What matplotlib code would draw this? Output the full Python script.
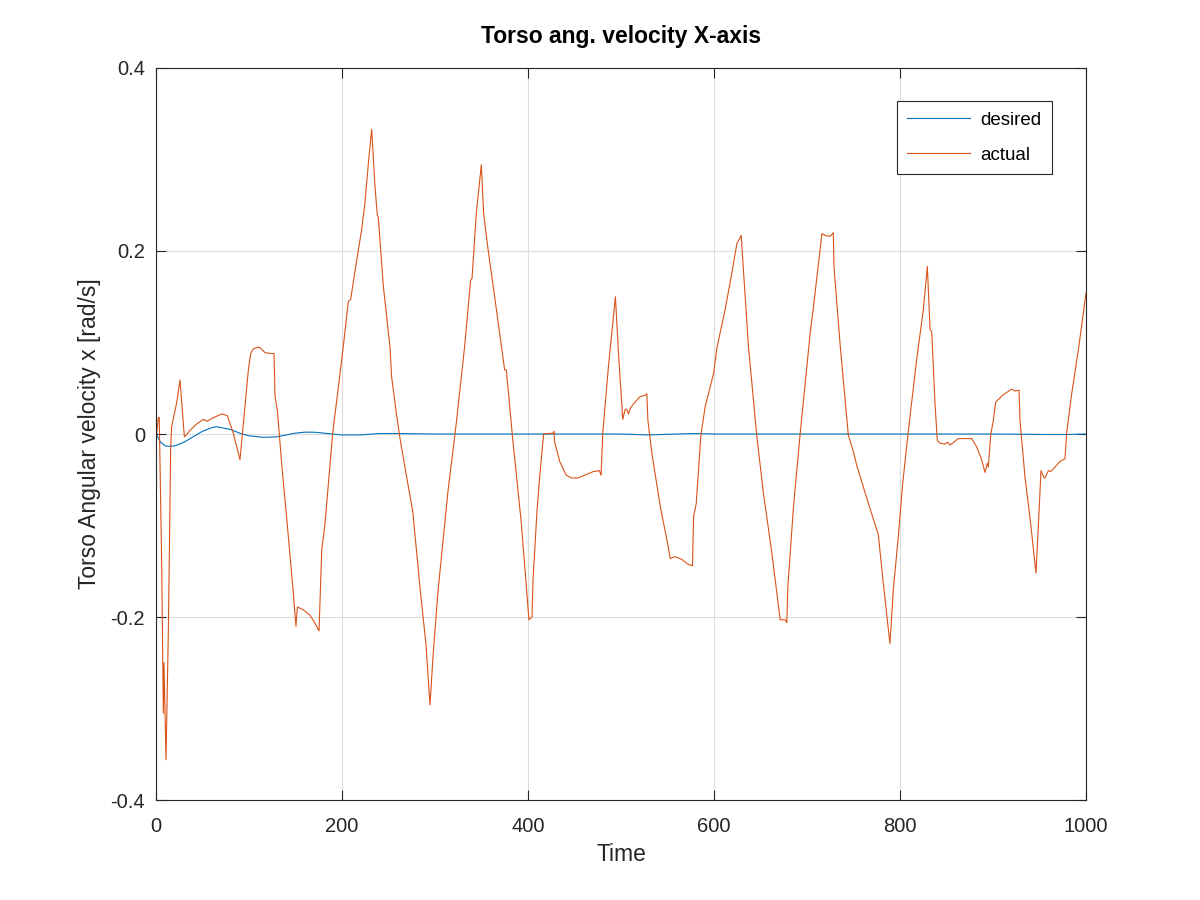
import matplotlib
matplotlib.use('Agg')
import matplotlib.pyplot as plt

plt.rcParams['font.family'] = ['Liberation Sans', 'DejaVu Sans']

# desired torso angular velocity
t_des = [0, 5, 10, 15, 20, 30, 40, 50, 60, 65, 70, 80, 90, 100, 110, 115, 120, 130,
         140, 150, 160, 170, 180, 200, 220, 240, 260, 300, 400, 500, 530, 560, 580,
         600, 700, 800, 900, 960, 980, 1000]
v_des = [0, -0.009, -0.013, -0.0135, -0.013, -0.009, -0.003, 0.003, 0.007, 0.008, 0.007,
         0.005, 0.001, -0.002, -0.003, -0.0035, -0.0035, -0.003, -0.001, 0.001, 0.002,
         0.002, 0.001, -0.001, -0.001, 0.0005, 0.0005, 0, 0, 0, -0.001, 0, 0.0005,
         0, 0, 0, 0, -0.0005, -0.0005, 0]

# actual torso angular velocity
t_act = [0, 0.7, 2.5, 3.5, 6.1, 7.9, 8.6, 10.75, 13.3, 15.8, 16.8, 22.2, 25.8, 30.5, 31.9,
         36.6, 43.7, 50.9, 55.2, 59.9, 70.6, 76.7, 83.1, 90.3, 93.2, 97.5, 99.3, 101.8,
         104.6, 110, 112, 117.2, 122.6, 126.9, 128, 130.5, 135.1, 142.3, 147.7, 150.5,
         152, 158.4, 165.6, 171, 175.3, 178.2, 181.7, 190, 199.7, 203.2, 206.8, 209.3,
         214, 221.2, 224.7, 228.3, 231.9, 235.5, 238, 239, 244.4, 251.6, 253.4, 258.8,
         262.4, 269.5, 276, 283.9, 290.3, 294.6, 298.2, 303.2, 313.9, 322.9, 331.8,
         338.3, 339.8, 344.4, 349.8, 352.3, 356.9, 365.9, 374.9, 376.7, 383.9, 392.8,
         401, 404.3, 405.4, 409.7, 412.5, 416.8, 426.9, 428, 428.7, 434.1, 441.2, 446.6,
         453.8, 461, 470.3, 476.8, 478.6, 480.4, 486.5, 494, 497.3, 501.9, 504.5, 506.2,
         508, 510.5, 515.2, 520.6, 525.3, 527.8, 528.9, 533.2, 542.2, 550, 552.9, 558.3,
         565.4, 571.5, 576.9, 578, 580.9, 585.9, 590.5, 599.5, 603.1, 612, 619.2, 624.6,
         629.2, 630.7, 637.1, 646.1, 653.2, 662.2, 671.2, 676.5, 678.3, 679.4, 685.5,
         692.7, 703.4, 707, 716, 719.6, 725, 728.3, 729, 735.5, 744.4, 749.8, 753.4,
         760.6, 769.5, 776.7, 782, 789.2, 792.8, 798.2, 802.9, 809, 817.9, 825.1, 829.4,
         832.3, 834.1, 837.6, 840.1, 843, 848.4, 851.3, 853.8, 862.7, 877.1, 882.4,
         887.8, 891.4, 893.9, 895, 897.5, 900.4, 902.9, 911.1, 920.1, 923.7, 928, 929,
         934.4, 940.5, 946.2, 948.7, 951.6, 954.8, 955.9, 959.5, 962, 964.9, 972, 977.4,
         979.2, 984.6, 991.8, 1000]
v_act = [0, 0, 0.018, 0.018, -0.141, -0.305, -0.25, -0.356, -0.214, -0.014, 0.008, 0.034,
         0.059, -0.003, -0.002, 0.004, 0.011, 0.016, 0.014, 0.017, 0.022, 0.020, 0.001,
         -0.028, 0.004, 0.052, 0.070, 0.088, 0.093, 0.095, 0.094, 0.089, 0.088, 0.088,
         0.041, 0.026, -0.032, -0.112, -0.174, -0.210, -0.189, -0.192, -0.198, -0.207,
         -0.215, -0.127, -0.098, 0.001, 0.081, 0.112, 0.145, 0.147, 0.178, 0.224, 0.253,
         0.295, 0.333, 0.270, 0.239, 0.237, 0.162, 0.095, 0.062, 0.020, -0.005, -0.047,
         -0.084, -0.168, -0.230, -0.296, -0.238, -0.172, -0.063, 0.012, 0.095, 0.168,
         0.170, 0.241, 0.294, 0.241, 0.203, 0.137, 0.070, 0.070, -0.009, -0.097, -0.203,
         -0.200, -0.159, -0.084, -0.047, 0.000, 0.001, 0.003, -0.009, -0.030, -0.045,
         -0.048, -0.048, -0.045, -0.041, -0.040, -0.045, 0.001, 0.074, 0.150, 0.088,
         0.016, 0.027, 0.027, 0.022, 0.029, 0.035, 0.041, 0.042, 0.044, 0.015, -0.021,
         -0.079, -0.119, -0.136, -0.134, -0.137, -0.142, -0.144, -0.090, -0.076, -0.001,
         0.030, 0.066, 0.094, 0.136, 0.176, 0.208, 0.217, 0.194, 0.095, -0.003, -0.065,
         -0.130, -0.203, -0.203, -0.206, -0.167, -0.079, 0.001, 0.110, 0.139, 0.219,
         0.217, 0.216, 0.220, 0.183, 0.099, -0.001, -0.019, -0.034, -0.058, -0.087,
         -0.110, -0.163, -0.229, -0.170, -0.112, -0.054, 0.004, 0.081, 0.136, 0.183,
         0.114, 0.112, 0.034, -0.007, -0.010, -0.011, -0.009, -0.012, -0.005, -0.005,
         -0.014, -0.028, -0.042, -0.032, -0.036, -0.001, 0.015, 0.035, 0.043, 0.049,
         0.047, 0.048, 0.015, -0.047, -0.098, -0.152, -0.102, -0.040, -0.048, -0.048,
         -0.040, -0.041, -0.038, -0.030, -0.027, 0.001, 0.044, 0.092, 0.154]

fig = plt.figure(figsize=(12, 9), dpi=100)
ax = fig.add_axes([0.13, 0.111, 0.775, 0.8135])

ax.plot(t_des, v_des, color='#0072BD', lw=0.8, label='desired')
ax.plot(t_act, v_act, color='#D95319', lw=0.8, label='actual')

ax.set_xlim(0, 1000)
ax.set_ylim(-0.4, 0.4)
ax.set_xticks([0, 200, 400, 600, 800, 1000])
ax.set_yticks([-0.4, -0.2, 0, 0.2, 0.4])
ax.set_yticklabels(['-0.4', '-0.2', '0', '0.2', '0.4'])
ax.grid(True, color='#dcdcdc', lw=0.8)
ax.tick_params(direction='in', length=7, width=0.8, top=True, right=True,
               labelsize=14.5, colors='#262626')
ax.tick_params(axis='x', pad=12)
ax.tick_params(axis='y', pad=8)
for s in ax.spines.values():
    s.set_color('#262626')
    s.set_linewidth(0.8)

ax.set_title('Torso ang. velocity X-axis', fontsize=16.5, fontweight='bold', pad=18)
ax.set_xlabel('Time', fontsize=16.5, color='#262626', labelpad=5)
ax.set_ylabel('Torso Angular velocity x [rad/s]', fontsize=16.5, color='#262626', labelpad=7)

leg = ax.legend(loc='upper right', bbox_to_anchor=(0.9734, 0.967), fontsize=13.5,
                fancybox=False, edgecolor='#262626', framealpha=1, handlelength=3.35,
                borderpad=0.55, labelspacing=0.95, handletextpad=0.55)
leg.get_frame().set_linewidth(0.8)

fig.savefig('out.png', dpi=100)
